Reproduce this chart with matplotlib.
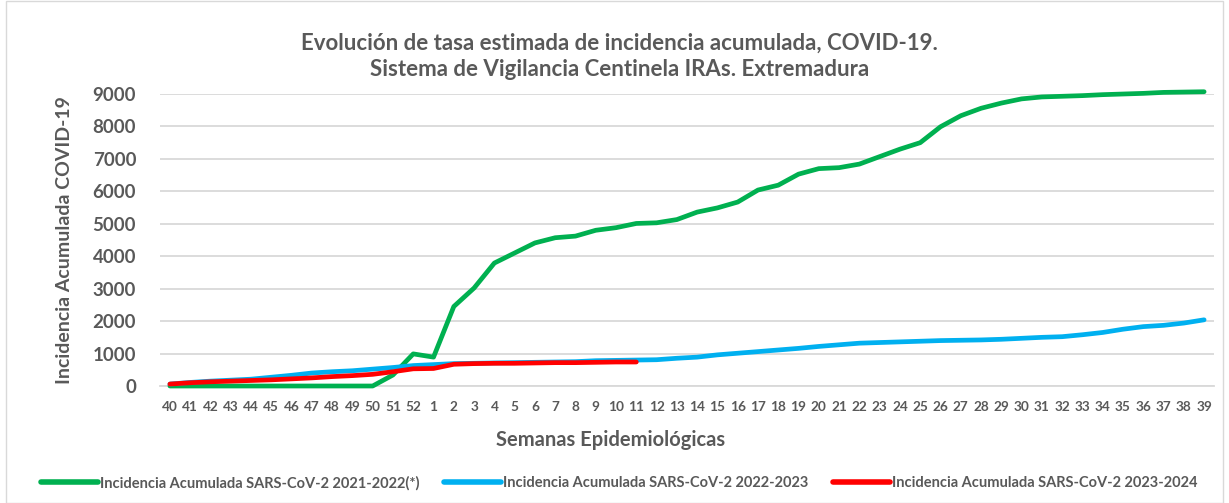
import numpy as np
import matplotlib.pyplot as plt
from matplotlib.patches import Rectangle

plt.rcParams['font.family'] = ['Lato', 'DejaVu Sans']

weeks = [str(w) for w in list(range(40, 53)) + list(range(1, 40))]

green_2122 = [0, 0, 0, 0, 0, 0, 0, 0, 0, 0, 0, 340, 990,
              890, 2450, 3020, 3790, 4100, 4410, 4570, 4620, 4800, 4880, 5010, 5030,
              5130, 5360, 5490, 5670, 6040, 6190, 6530, 6700, 6730, 6840, 7070, 7300,
              7500, 7990, 8330, 8560, 8720, 8850, 8910, 8930, 8950, 8980, 9000, 9020,
              9050, 9060, 9070]
blue_2223 = [60, 110, 150, 180, 210, 270, 330, 400, 440, 470, 520, 570, 630,
             660, 690, 700, 710, 720, 730, 740, 750, 780, 790, 800, 810,
             855, 890, 960, 1010, 1060, 1110, 1160, 1220, 1270, 1320, 1340, 1360,
             1380, 1400, 1410, 1420, 1440, 1470, 1500, 1520, 1580, 1650, 1750, 1830,
             1870, 1940, 2040]
red_2324 = [60, 100, 130, 150, 170, 190, 220, 250, 290, 320, 360, 440, 530,
            540, 670, 690, 700, 700, 710, 720, 720, 730, 740, 740]

labels = ["Incidencia Acumulada SARS-CoV-2 2021-2022(*)",
          "Incidencia Acumulada SARS-CoV-2 2022-2023",
          "Incidencia Acumulada SARS-CoV-2 2023-2024"]
colors = ["#00b050", "#00b0f0", "#ff0000"]

txt = "#595959"

fig = plt.figure(figsize=(12.29, 5.03), dpi=100)
ax = fig.add_axes([0.130, 0.2326, 0.858, 0.5805])

x = np.arange(len(weeks))
for vals, lab, col in zip([green_2122, blue_2223, red_2324], labels, colors):
    ax.plot(x[:len(vals)], vals, color=col, lw=3.4, label=lab, clip_on=False,
            zorder=3, solid_capstyle="round", solid_joinstyle="round")

ax.set_xlim(-0.5, len(weeks) - 0.5)
ax.set_ylim(0, 9000)
ax.set_yticks(range(0, 9001, 1000))
ax.set_xticks(x)
ax.set_xticklabels(weeks)
ax.grid(axis="y", color="#d9d9d9", lw=1.3)
ax.set_axisbelow(True)
for s in ["top", "right", "left"]:
    ax.spines[s].set_visible(False)
ax.spines["bottom"].set_color("#d9d9d9")
ax.spines["bottom"].set_linewidth(1.3)
ax.tick_params(axis="both", length=0)
ax.tick_params(axis="y", labelsize=13.5, labelcolor=txt, pad=17)
ax.tick_params(axis="x", labelsize=9.8, labelcolor=txt, pad=11)
for t in ax.get_xticklabels() + ax.get_yticklabels():
    t.set_fontweight("bold")

ax.set_ylabel("Incidencia Acumulada COVID-19", fontsize=14, fontweight="bold", color=txt, labelpad=14)
fig.text(0.497, 0.125, "Semanas Epidemiológicas", ha="center", va="center",
         fontsize=14.5, fontweight="bold", color=txt)

fig.text(0.504, 0.888, "Evolución de tasa estimada de incidencia acumulada, COVID-19.\n"
         "Sistema de Vigilancia Centinela IRAs. Extremadura",
         ha="center", va="center", fontsize=16, fontweight="bold", color=txt,
         linespacing=1.3)

leg = fig.legend(loc="center", bbox_to_anchor=(0.504, 0.04), ncol=3, frameon=False,
                 fontsize=10.5, handlelength=3.9, handletextpad=0.15, columnspacing=1.7)
for t in leg.get_texts():
    t.set_color(txt)
    t.set_fontweight("bold")
for h in leg.get_lines():
    h.set_linewidth(4)

fig.patches.append(Rectangle((0.005, 0.0), 0.99, 0.998, transform=fig.transFigure,
                             fill=False, edgecolor="#d9d9d9", lw=1))

fig.savefig("out.png", dpi=100)
